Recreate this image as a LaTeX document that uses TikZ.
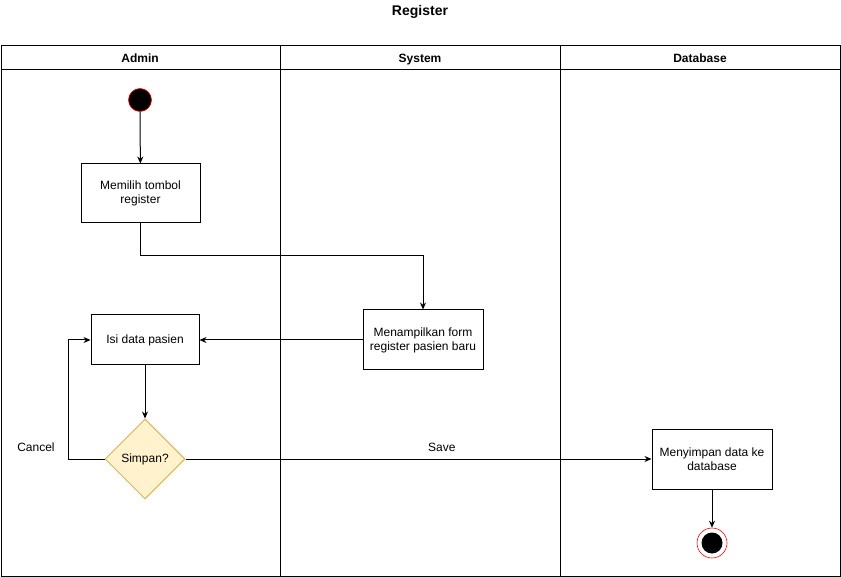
\documentclass[tikz,border=0pt]{standalone}
\usepackage{fontspec}
\setmainfont{Liberation Sans}
\usetikzlibrary{shapes.geometric,positioning,arrows.meta}

\begin{document}
\begin{tikzpicture}[x=1pt,y=-1pt,>={Stealth[length=7pt,width=6pt]},line width=1pt,
    every node/.style={font=\fontsize{12}{14}\selectfont},
    activity/.style={draw,rectangle,align=center,inner sep=2pt},
    decision/.style={diamond,draw={rgb,255:red,214;green,182;blue,86},fill={rgb,255:red,255;green,242;blue,204},
                     minimum width=80pt,minimum height=80pt,aspect=1,inner sep=0pt},
    lanehead/.style={font=\bfseries\fontsize{12}{14}\selectfont,text height=9pt,text depth=2.5pt}]
  \useasboundingbox (0,0) rectangle (841,577);

  % swimlanes
  \node[font=\bfseries\fontsize{14}{16}\selectfont] (title) at (420,12) {Register};
  \draw (1,46) rectangle (840,576);
  \draw (1,70) -- (840,70);
  \draw (280,46) -- (280,576);
  \draw (560,46) -- (560,576);
  \node[lanehead] (admin)    at (140,59) {Admin};
  \node[lanehead] (system)   at (420,59) {System};
  \node[lanehead] (database) at (700,59) {Database};

  % activities
  \node[circle,fill=black,draw=red,line width=0.6pt,minimum size=23pt,inner sep=0pt] (start) at (140,100) {};
  \node[activity,minimum width=119pt,minimum height=59pt] (pilih)  at (140.5,193.5) {Memilih tombol\\register};
  \node[activity,minimum width=120pt,minimum height=60pt] (form)   at (423,340) {Menampilkan form\\register pasien baru};
  \node[activity,minimum width=108pt,minimum height=50pt] (isi)    at (145,340) {Isi data pasien};
  \node[decision]                                         (simpan) at (145,459) {Simpan?};
  \node[activity,minimum width=120pt,minimum height=60pt] (simpandb) at (712,459) {Menyimpan data ke\\database};
  \node[circle,draw=red,line width=0.6pt,minimum size=30pt,inner sep=0pt] (end) at (712,543) {};
  \node[circle,fill=black,minimum size=21pt,inner sep=0pt] (endin) at (end) {};

  \draw[->] (start) -- (pilih);
  \draw[->] (pilih.south) -- ++(0,32) -| (form.north);
  \draw[->] (form) -- (isi);
  \draw[->] (isi) -- (simpan);
  \draw[->] (simpan.west) -- ++(-36,0) node[pos=1,anchor=east,xshift=-10pt,yshift=12pt] {Cancel} |- (isi.west);
  \draw[->] (simpan) -- node[pos=0.55,above=4pt] {Save} (simpandb);
  \draw[->] (simpandb) -- (end);
\end{tikzpicture}
\end{document}
